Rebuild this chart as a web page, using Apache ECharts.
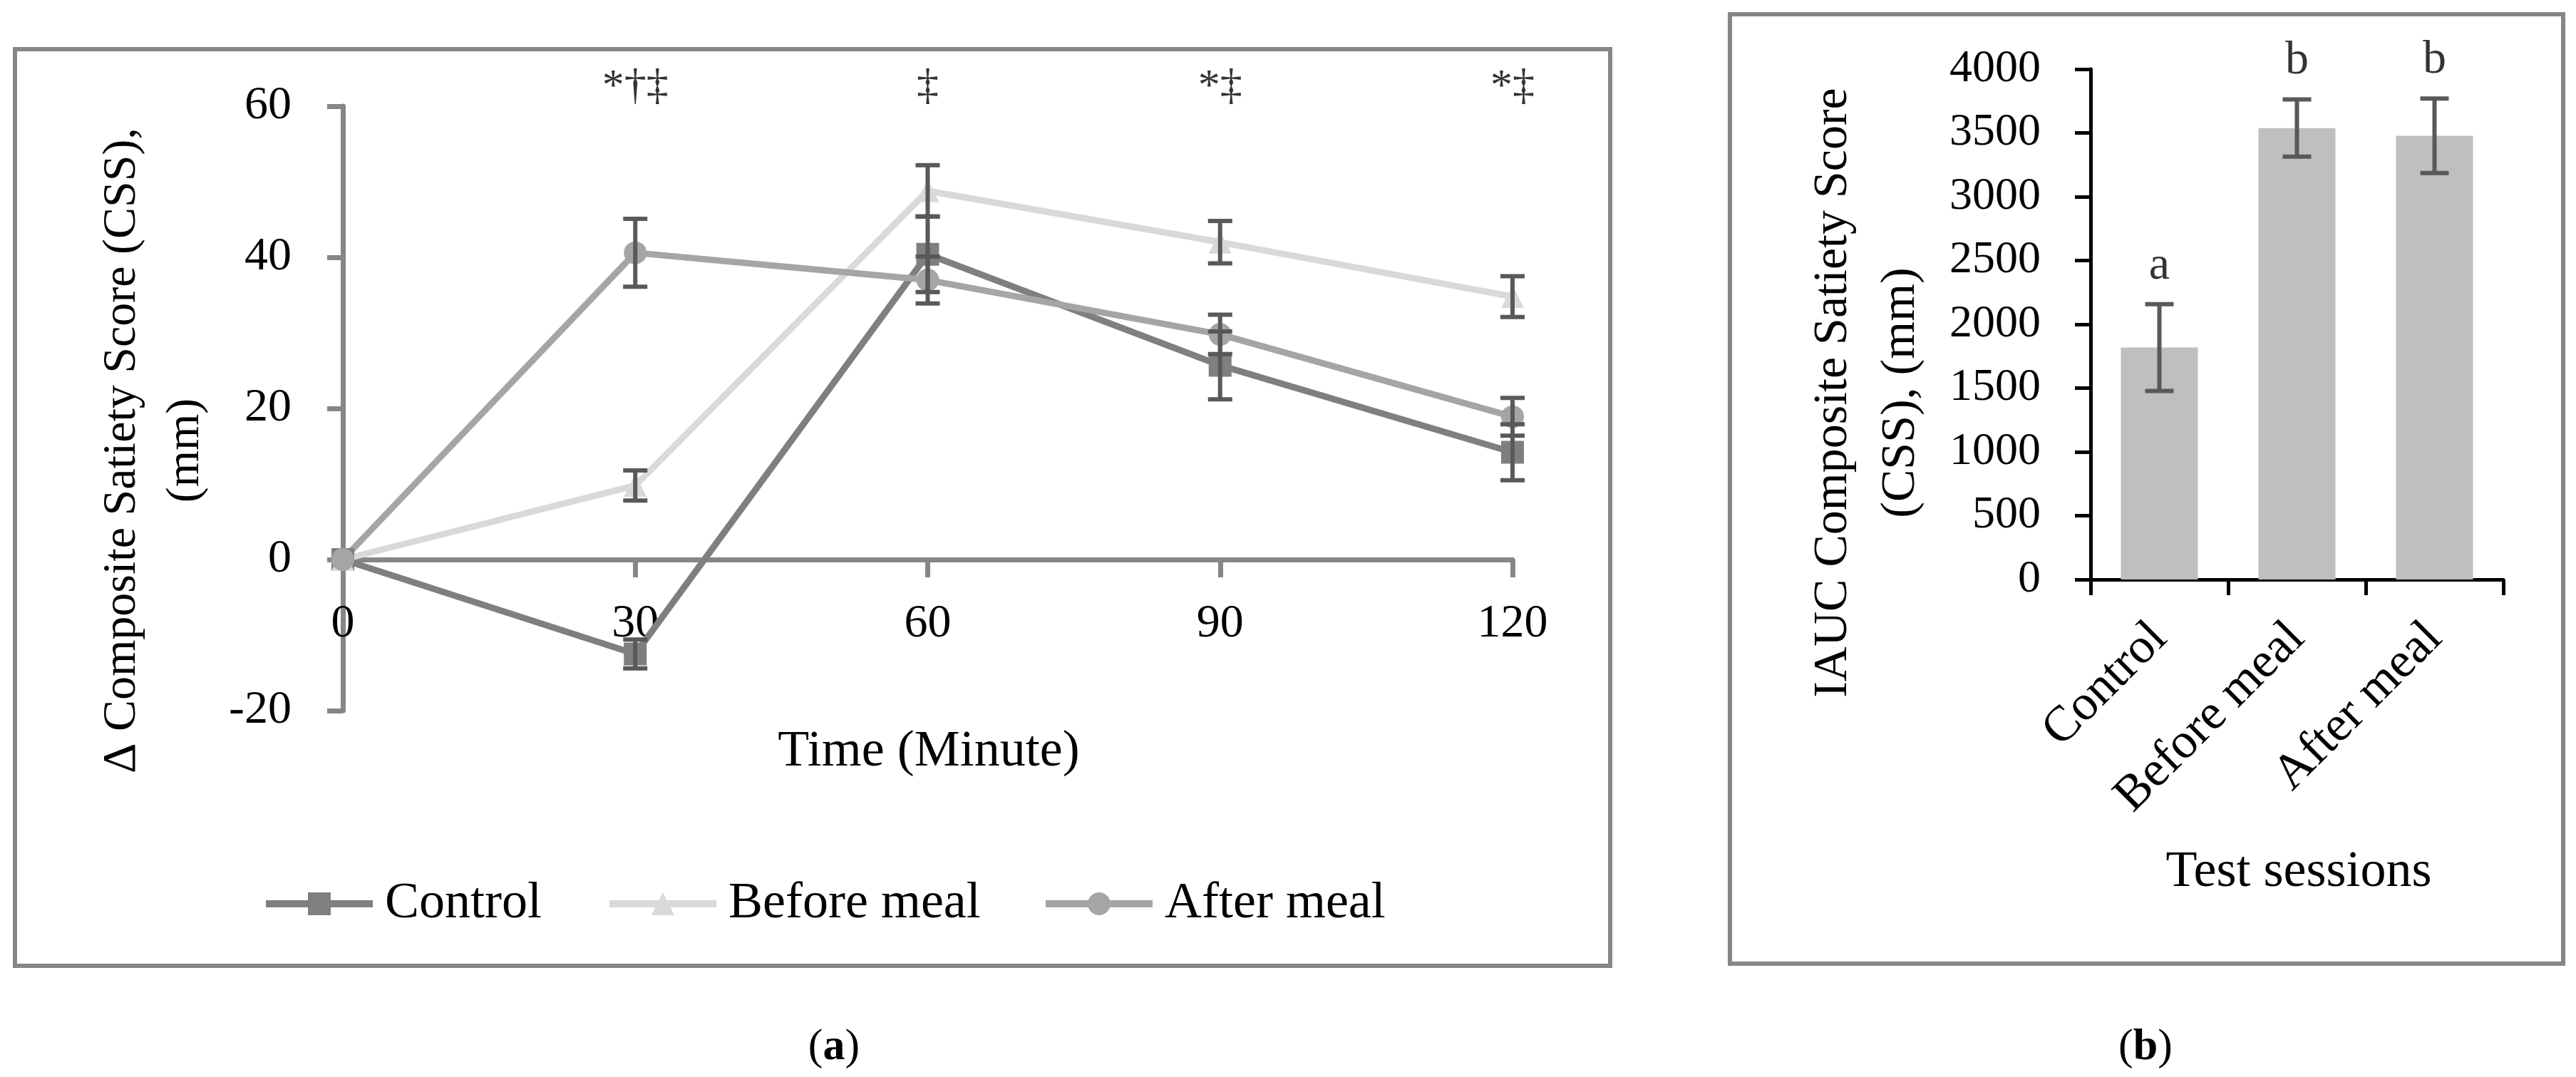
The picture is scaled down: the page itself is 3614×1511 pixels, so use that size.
<!DOCTYPE html>
<html>
<head>
<meta charset="utf-8">
<script src="https://cdn.jsdelivr.net/npm/echarts@6/dist/echarts.min.js"></script>
<style>
html,body{margin:0;padding:0;background:#fff;}
#chart{width:3614px;height:1511px;}
</style>
</head>
<body>
<div id="chart"></div>
<script>
// ---- Data ----
const times = [0, 30, 60, 90, 120];
const timeTicks = [0, 30, 60, 90, 120];
const controlMean = [0, -12.5, 40.4, 25.7, 14.2];
const controlErr  = [0, 1.9, 5.0, 4.5, 3.7];
const beforeMean  = [0, 9.8, 48.8, 42.0, 34.8];
const beforeErr   = [0, 2.0, 3.4, 2.8, 2.7];
const afterMean   = [0, 40.6, 37.0, 29.8, 18.9];
const afterErr    = [0, 4.5, 3.1, 2.6, 2.5];
const sigMarks    = ['', '*\u2020\u2021', '\u2021', '*\u2021', '*\u2021'];

const sessions    = ['Control', 'Before meal', 'After meal'];
const iaucMean    = [1818, 3538, 3478];
const iaucErr     = [340, 224, 292];
const iaucLetters = ['a', 'b', 'b'];

// ---- Styling ----
const FONT = 'Liberation Serif';
const AXIS_GRAY = '#868686';
const ERR = '#595959';
const C_CTRL = '#7f7f7f', C_BEFORE = '#d9d9d9', C_AFTER = '#a5a5a5';

function errRender(capW, color, width) {
  return function (params, api) {
    const x = api.value(0), m = api.value(1), e = api.value(2);
    if (!e) return { type: 'group', children: [] };
    const top = api.coord([x, m + e]);
    const bot = api.coord([x, m - e]);
    const c = capW / 2;
    const st = { stroke: color, lineWidth: width };
    return {
      type: 'group',
      children: [
        { type: 'line', shape: { x1: top[0], y1: top[1], x2: bot[0], y2: bot[1] }, style: st },
        { type: 'line', shape: { x1: top[0] - c, y1: top[1], x2: top[0] + c, y2: top[1] }, style: st },
        { type: 'line', shape: { x1: bot[0] - c, y1: bot[1], x2: bot[0] + c, y2: bot[1] }, style: st }
      ]
    };
  };
}

function pairs(mean) { return times.map((t, i) => [t, mean[i]]); }
function triples(mean, err) { return times.map((t, i) => [t, mean[i], err[i]]); }

function lineSeries(name, mean, color, symbol) {
  return {
    name: name, type: 'line', xAxisIndex: 0, yAxisIndex: 0,
    data: pairs(mean), symbol: symbol, symbolSize: 32, showSymbol: true,
    lineStyle: { color: color, width: 9 }, itemStyle: { color: color },
    z: 2
  };
}
function errSeries(mean, err) {
  return {
    type: 'custom', xAxisIndex: 0, yAxisIndex: 0, silent: true,
    data: triples(mean, err), renderItem: errRender(34, ERR, 6),
    encode: { x: 0, y: 1 }, z: 3
  };
}

const chart = echarts.init(document.getElementById('chart'), null, { renderer: 'canvas' });

const legendCommon = {
  itemWidth: 150, itemHeight: 40, top: 1227,
  lineStyle: { width: 10 },
  textStyle: { fontFamily: FONT, fontSize: 72, color: '#000', padding: [0, 0, 0, 12] }
};

const option = {
  animation: false,
  backgroundColor: '#fff',
  textStyle: { fontFamily: FONT },
  grid: [
    { left: 481, top: 149, width: 1641, height: 848 },
    { left: 2933, top: 97, width: 579, height: 716 }
  ],
  legend: [
    Object.assign({ data: ['Control'], left: 363 }, legendCommon),
    Object.assign({ data: ['Before meal'], left: 845 }, legendCommon),
    Object.assign({ data: ['After meal'], left: 1457 }, legendCommon)
  ],
  xAxis: [
    {
      type: 'value', gridIndex: 0, min: timeTicks[0], max: timeTicks[timeTicks.length - 1], interval: 30,
      offset: -212,
      axisLine: { show: true, onZero: false, lineStyle: { color: AXIS_GRAY, width: 7 } },
      axisTick: { show: true, length: 25, lineStyle: { color: AXIS_GRAY, width: 7 } },
      axisLabel: { fontFamily: FONT, fontSize: 66, color: '#000', margin: 58 },
      splitLine: { show: false }
    },
    {
      type: 'category', gridIndex: 1, data: sessions,
      axisLine: { show: true, lineStyle: { color: '#000', width: 5 } },
      axisTick: { show: true, length: 22, alignWithLabel: false, lineStyle: { color: '#000', width: 5 } },
      axisLabel: { fontFamily: FONT, fontSize: 70, color: '#000', rotate: 45, margin: 72, interval: 0 }
    }
  ],
  yAxis: [
    {
      type: 'value', gridIndex: 0, min: -20, max: 60, interval: 20,
      axisLine: { show: true, lineStyle: { color: AXIS_GRAY, width: 7 } },
      axisTick: { show: true, length: 22, lineStyle: { color: AXIS_GRAY, width: 7 } },
      axisLabel: { fontFamily: FONT, fontSize: 66, color: '#000', margin: 72 },
      splitLine: { show: false }
    },
    {
      type: 'value', gridIndex: 1, min: 0, max: 4000, interval: 500,
      axisLine: { show: true, lineStyle: { color: '#000', width: 5 } },
      axisTick: { show: true, length: 22, lineStyle: { color: '#000', width: 5 } },
      axisLabel: { fontFamily: FONT, fontSize: 64, color: '#000', margin: 70, formatter: v => String(v) },
      splitLine: { show: false }
    }
  ],
  series: [
    lineSeries('Control', controlMean, C_CTRL, 'rect'),
    lineSeries('Before meal', beforeMean, C_BEFORE, 'triangle'),
    lineSeries('After meal', afterMean, C_AFTER, 'circle'),
    errSeries(controlMean, controlErr),
    errSeries(beforeMean, beforeErr),
    errSeries(afterMean, afterErr),
    {
      type: 'scatter', xAxisIndex: 0, yAxisIndex: 0, silent: true,
      data: times.map((t, i) => [t, 60, sigMarks[i]]).filter(d => d[2]),
      symbolSize: 1, itemStyle: { color: 'rgba(0,0,0,0)' },
      label: {
        show: true, position: 'inside', offset: [0, -26],
        formatter: p => p.data[2],
        fontFamily: FONT, fontSize: 62, color: '#000'
      },
      z: 5
    },
    {
      type: 'bar', xAxisIndex: 1, yAxisIndex: 1, data: iaucMean,
      barWidth: 108, itemStyle: { color: '#bfbfbf' }, z: 2
    },
    {
      type: 'custom', xAxisIndex: 1, yAxisIndex: 1, silent: true,
      data: sessions.map((s, i) => [i, iaucMean[i], iaucErr[i]]),
      renderItem: errRender(40, ERR, 6), encode: { x: 0, y: 1 }, z: 3
    },
    {
      type: 'scatter', xAxisIndex: 1, yAxisIndex: 1, silent: true,
      data: sessions.map((s, i) => [s, iaucMean[i] + iaucErr[i], iaucLetters[i]]),
      symbolSize: 1, itemStyle: { color: 'rgba(0,0,0,0)' },
      label: {
        show: true, position: 'top', distance: 20,
        formatter: p => p.data[2],
        fontFamily: FONT, fontSize: 66, color: '#000'
      },
      z: 5
    }
  ],
  graphic: [
    { type: 'rect', shape: { x: 21, y: 69, width: 2238, height: 1286 }, style: { fill: 'none', stroke: AXIS_GRAY, lineWidth: 6 }, silent: true },
    { type: 'rect', shape: { x: 2427, y: 20, width: 1169, height: 1332 }, style: { fill: 'none', stroke: AXIS_GRAY, lineWidth: 6 }, silent: true },
    {
      type: 'text', x: 216, y: 632, rotation: Math.PI / 2, silent: true,
      style: { text: '\u0394 Composite Satiety Score (CSS),\n(mm)', font: '66px "Liberation Serif"', fill: '#000', textAlign: 'center', textVerticalAlign: 'middle', lineHeight: 89 }
    },
    {
      type: 'text', x: 1303, y: 1055, silent: true,
      style: { text: 'Time (Minute)', font: '72px "Liberation Serif"', fill: '#000', textAlign: 'center', textVerticalAlign: 'middle' }
    },
    {
      type: 'text', x: 2620, y: 551, rotation: Math.PI / 2, silent: true,
      style: { text: 'IAUC Composite Satiety Score\n(CSS), (mm)', font: '68px "Liberation Serif"', fill: '#000', textAlign: 'center', textVerticalAlign: 'middle', lineHeight: 95 }
    },
    {
      type: 'text', x: 3225, y: 1224, silent: true,
      style: { text: 'Test sessions', font: '72px "Liberation Serif"', fill: '#000', textAlign: 'center', textVerticalAlign: 'middle' }
    },
    {
      type: 'text', x: 1170, y: 1470, silent: true,
      style: { text: '({b|a})', font: '62px "Liberation Serif"', fill: '#000', textAlign: 'center', textVerticalAlign: 'middle',
        rich: { b: { fontFamily: FONT, fontSize: 62, fontWeight: 'bold', fill: '#000' } } }
    },
    {
      type: 'text', x: 3010, y: 1470, silent: true,
      style: { text: '({b|b})', font: '62px "Liberation Serif"', fill: '#000', textAlign: 'center', textVerticalAlign: 'middle',
        rich: { b: { fontFamily: FONT, fontSize: 62, fontWeight: 'bold', fill: '#000' } } }
    }
  ]
};

chart.setOption(option);
</script>
</body>
</html>
